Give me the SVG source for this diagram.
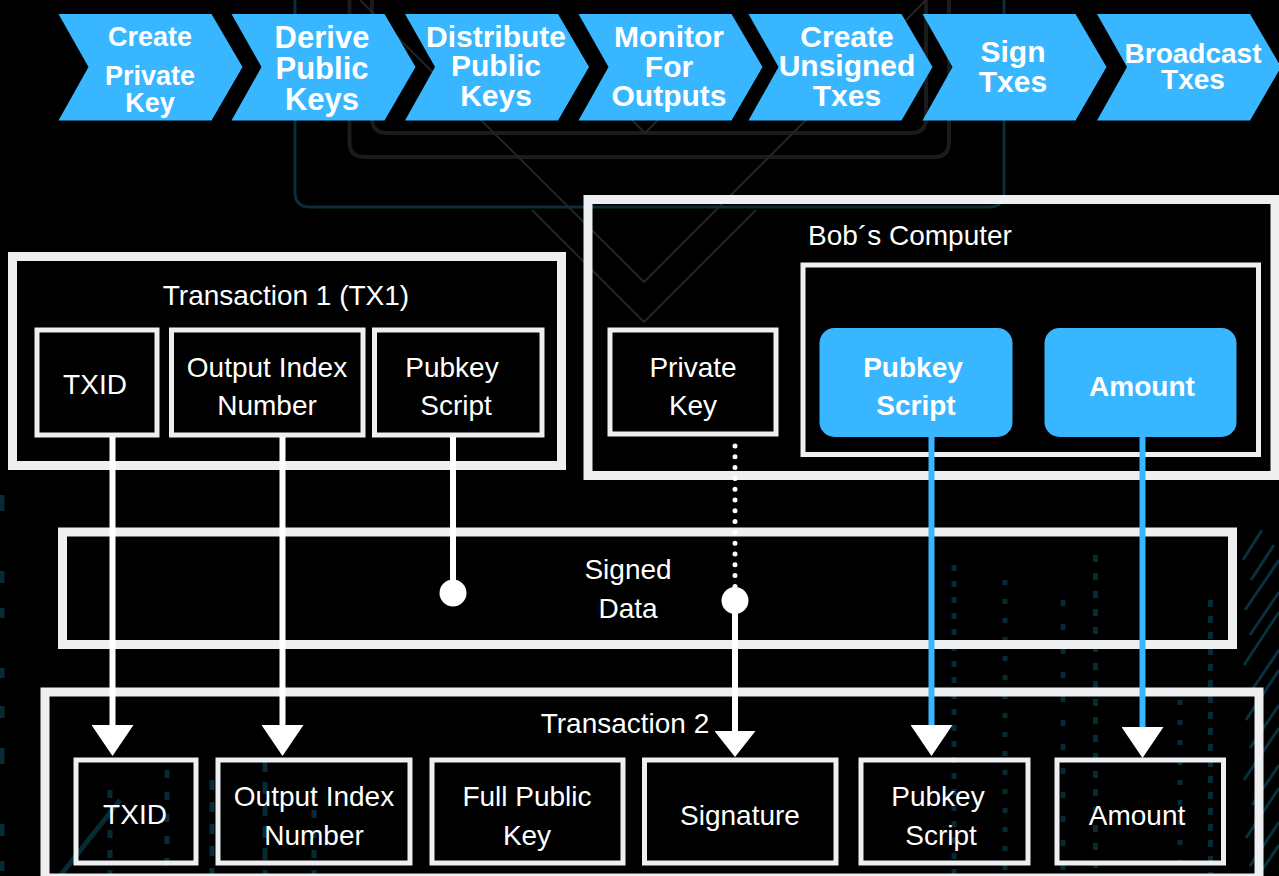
<svg xmlns="http://www.w3.org/2000/svg" width="1279" height="876" viewBox="0 0 1279 876">
  <style>
    .frame { fill: none; stroke: #EEEFF1; stroke-width: 9; }
    .cell { fill: none; stroke: #EEEFF1; stroke-width: 5; }
    .chev { fill: #38B6FF; }
    .pill { fill: #38B6FF; }
    .ct { font-family: "Liberation Sans", Arial, sans-serif; font-weight: bold; fill: #FFFFFF; text-anchor: middle; }
    .lbl { font-family: "Liberation Sans", Arial, sans-serif; font-size: 28px; fill: #FFFFFF; text-anchor: middle; }
    .blbl { font-family: "Liberation Sans", Arial, sans-serif; font-size: 28px; font-weight: bold; fill: #FFFFFF; text-anchor: middle; }
    .wire { fill: none; stroke: #FFFFFF; stroke-width: 6; }
    .bwire { fill: none; stroke: #38B6FF; stroke-width: 6; }
    .dots { fill: none; stroke: #FFFFFF; stroke-width: 5; stroke-linecap: round; stroke-dasharray: 0 10.8; }
    .teal { fill: none; stroke: #0a2d37; stroke-width: 3; }
    .grey { fill: none; stroke: #1b1b1b; stroke-width: 4; }
    .vee { fill: none; stroke: #242424; stroke-width: 2; }
    .pcb { fill: none; stroke: #07303b; stroke-width: 5; }
  </style>
  <defs>
    <path id="chev" d="M0,0 H153 L184,53 L153,106.5 H0 L30,53 Z"/>
    <marker id="head" markerUnits="userSpaceOnUse" viewBox="0 -21 31 42" refX="0" refY="0" markerWidth="31" markerHeight="42" orient="auto">
      <path d="M0,-21 L31,0 L0,21 Z" fill="#FFFFFF"/>
    </marker>
    <marker id="head-sm" markerUnits="userSpaceOnUse" viewBox="0 -20.5 26 41" refX="0" refY="0" markerWidth="26" markerHeight="41" orient="auto">
      <path d="M0,-20.5 L26,0 L0,20.5 Z" fill="#FFFFFF"/>
    </marker>
  </defs>

  <rect x="0" y="0" width="1279" height="876" fill="#000000"/>

  <!-- faint circuit-board backdrop -->
  <g id="backdrop">
    <path class="teal" d="M295,0 V192 Q295,207 310,207 H989 Q1004,207 1004,192 V0"/>
    <path class="grey" d="M349.5,0 V142 Q349.5,157 364.5,157 H934 Q949,157 949,142 V0"/>
    <path class="grey" d="M372,0 V118 Q372,133 387,133 H911 Q926,133 926,118 V0"/>
    <path class="vee" d="M360,0 L644,282 L926,0"/>
    <path class="vee" d="M532,210 L644,322 L756,210"/>
    <path class="vee" d="M615,103 L645,133 L675,103"/>
    <g opacity="0.9">
      <path class="pcb" d="M954,565 V876" stroke-dasharray="6 10"/>
      <path class="pcb" d="M1005,580 V876" stroke-dasharray="5 14"/>
      <path class="pcb" d="M1063,600 V876" stroke-dasharray="6 18"/>
      <path class="pcb" d="M1095.5,555 V876" stroke-dasharray="7 11"/>
      <path class="pcb" d="M1210.5,600 V876" stroke-dasharray="7 9"/>
      <path class="pcb" d="M1180,700 V876" stroke-dasharray="5 15"/>
      <path class="pcb" d="M2,495 V876" stroke-dasharray="16 60 12 25 10 50 10 28 12 30"/>
      <path class="pcb" d="M110,790 V876" stroke-dasharray="8 12" stroke-width="3"/>
      <path class="pcb" d="M167,770 V876" stroke-dasharray="8 14" stroke-width="3"/>
      <path class="pcb" d="M212,780 V876" stroke-dasharray="10 12" stroke-width="3"/>
      <path class="pcb" d="M265,760 V876" stroke-dasharray="12 10" stroke-width="3"/>
      <path class="pcb" d="M314,790 V876" stroke-dasharray="8 12" stroke-width="3"/>
      <path class="pcb" d="M60,876 L120,800" stroke-width="3"/>
    </g>
    <g stroke="#06323d" stroke-width="3" fill="none">
      <path d="M1243,560 L1262,530 M1251,580 L1274,545 M1245,610 L1279,560 M1250,635 L1279,592 M1244,665 L1279,612 M1252,690 L1279,650 M1246,720 L1279,670 M1250,748 L1279,705 M1244,780 L1279,728 M1252,805 L1279,765 M1246,838 L1279,788 M1250,866 L1279,822 M1258,876 L1279,845"/>
    </g>
  </g>

  <!-- process steps -->
  <g id="step-create-key">
    <use href="#chev" class="chev" x="58.5" y="14"/>
    <text class="ct" font-size="27" x="150" y="46">Create</text>
    <text class="ct" font-size="27" x="150" y="85">Private</text>
    <text class="ct" font-size="27" x="150" y="112">Key</text>
  </g>
  <g id="step-derive">
    <use href="#chev" class="chev" x="231.5" y="14"/>
    <text class="ct" font-size="31" x="322" y="48">Derive</text>
    <text class="ct" font-size="31" x="322" y="79">Public</text>
    <text class="ct" font-size="31" x="322" y="110">Keys</text>
  </g>
  <g id="step-distribute">
    <use href="#chev" class="chev" x="405" y="14"/>
    <text class="ct" font-size="30" x="496" y="47">Distribute</text>
    <text class="ct" font-size="30" x="496" y="76">Public</text>
    <text class="ct" font-size="30" x="496" y="106">Keys</text>
  </g>
  <g id="step-monitor">
    <use href="#chev" class="chev" x="578.5" y="14"/>
    <text class="ct" font-size="30" x="669" y="47">Monitor</text>
    <text class="ct" font-size="30" x="669" y="77">For</text>
    <text class="ct" font-size="30" x="669" y="106">Outputs</text>
  </g>
  <g id="step-create-tx">
    <use href="#chev" class="chev" x="748.5" y="14"/>
    <text class="ct" font-size="30" x="847" y="47">Create</text>
    <text class="ct" font-size="30" x="847" y="76">Unsigned</text>
    <text class="ct" font-size="30" x="847" y="106">Txes</text>
  </g>
  <g id="step-sign">
    <use href="#chev" class="chev" x="922.5" y="14"/>
    <text class="ct" font-size="30" x="1013" y="62">Sign</text>
    <text class="ct" font-size="30" x="1013" y="92">Txes</text>
  </g>
  <g id="step-broadcast">
    <use href="#chev" class="chev" x="1097" y="14"/>
    <text class="ct" font-size="28" x="1193" y="63">Broadcast</text>
    <text class="ct" font-size="28" x="1193" y="89">Txes</text>
  </g>

  <!-- Transaction 1 -->
  <g id="tx1">
    <rect class="frame" x="12.5" y="256.5" width="549" height="209"/>
    <text class="lbl" x="286" y="305">Transaction 1 (TX1)</text>
  </g>
  <g id="tx1-txid">
    <rect class="cell" x="37" y="330" width="120" height="105"/>
    <text class="lbl" x="95" y="394">TXID</text>
  </g>
  <g id="tx1-index">
    <rect class="cell" x="171.5" y="330" width="191.5" height="105"/>
    <text class="lbl" x="267" y="377">Output Index</text>
    <text class="lbl" x="267" y="415">Number</text>
  </g>
  <g id="tx1-pubkey">
    <rect class="cell" x="374.5" y="330" width="167.5" height="105"/>
    <text class="lbl" x="452" y="377">Pubkey</text>
    <text class="lbl" x="456" y="415">Script</text>
  </g>

  <!-- Bob's computer -->
  <g id="bob">
    <rect class="frame" x="588" y="199.5" width="687" height="276"/>
    <text class="lbl" x="910" y="245">Bob´s Computer</text>
  </g>
  <g id="bob-private">
    <rect class="cell" x="610" y="330" width="166" height="104"/>
    <text class="lbl" x="693" y="377">Private</text>
    <text class="lbl" x="693" y="415">Key</text>
  </g>
  <g id="bob-outputs">
    <rect class="cell" x="803" y="265" width="455.5" height="189.5"/>
  </g>
  <g id="bob-pubkey">
    <rect class="pill" x="819.5" y="328" width="193" height="109" rx="15"/>
    <text class="blbl" x="913" y="377">Pubkey</text>
    <text class="blbl" x="916" y="415">Script</text>
  </g>
  <g id="bob-amount">
    <rect class="pill" x="1044.5" y="328" width="192" height="109" rx="15"/>
    <text class="blbl" x="1142" y="396">Amount</text>
  </g>

  <!-- Signed data band -->
  <g id="signed-data">
    <rect class="frame" x="62.5" y="532" width="1170" height="112.5"/>
    <text class="lbl" x="628" y="579">Signed</text>
    <text class="lbl" x="628" y="618">Data</text>
  </g>

  <!-- Transaction 2 -->
  <g id="tx2">
    <rect class="frame" x="45" y="692" width="1214" height="186"/>
    <text class="lbl" x="625" y="733">Transaction 2</text>
  </g>
  <g id="tx2-txid">
    <rect class="cell" x="76" y="760" width="120" height="103"/>
    <text class="lbl" x="135" y="824">TXID</text>
  </g>
  <g id="tx2-index">
    <rect class="cell" x="218" y="760" width="192" height="103"/>
    <text class="lbl" x="314" y="806">Output Index</text>
    <text class="lbl" x="314" y="845">Number</text>
  </g>
  <g id="tx2-fullkey">
    <rect class="cell" x="432" y="760" width="191" height="103"/>
    <text class="lbl" x="527" y="806">Full Public</text>
    <text class="lbl" x="527" y="845">Key</text>
  </g>
  <g id="tx2-signature">
    <rect class="cell" x="644.5" y="760" width="191.5" height="103"/>
    <text class="lbl" x="740" y="825">Signature</text>
  </g>
  <g id="tx2-pubkey">
    <rect class="cell" x="861" y="760" width="167" height="103"/>
    <text class="lbl" x="938" y="806">Pubkey</text>
    <text class="lbl" x="941" y="845">Script</text>
  </g>
  <g id="tx2-amount">
    <rect class="cell" x="1057" y="760" width="166.5" height="103"/>
    <text class="lbl" x="1137" y="825">Amount</text>
  </g>

  <!-- connectors -->
  <g id="connectors">
    <path class="wire" d="M112.5,437 V725" marker-end="url(#head)"/>
    <path class="wire" d="M282.5,437 V725" marker-end="url(#head)"/>
    <path class="wire" d="M453,437 V593" stroke-width="5.5"/>
    <circle cx="453" cy="593" r="13.5" fill="#FFFFFF"/>
    <path class="dots" d="M735,446 V590"/>
    <circle cx="735" cy="600.5" r="13.5" fill="#FFFFFF"/>
    <path class="wire" d="M735,600 V731" marker-end="url(#head-sm)"/>
    <path class="bwire" d="M931.5,437 V725" marker-end="url(#head)"/>
    <path class="bwire" d="M1142.5,437 V727" marker-end="url(#head)"/>
  </g>
</svg>
